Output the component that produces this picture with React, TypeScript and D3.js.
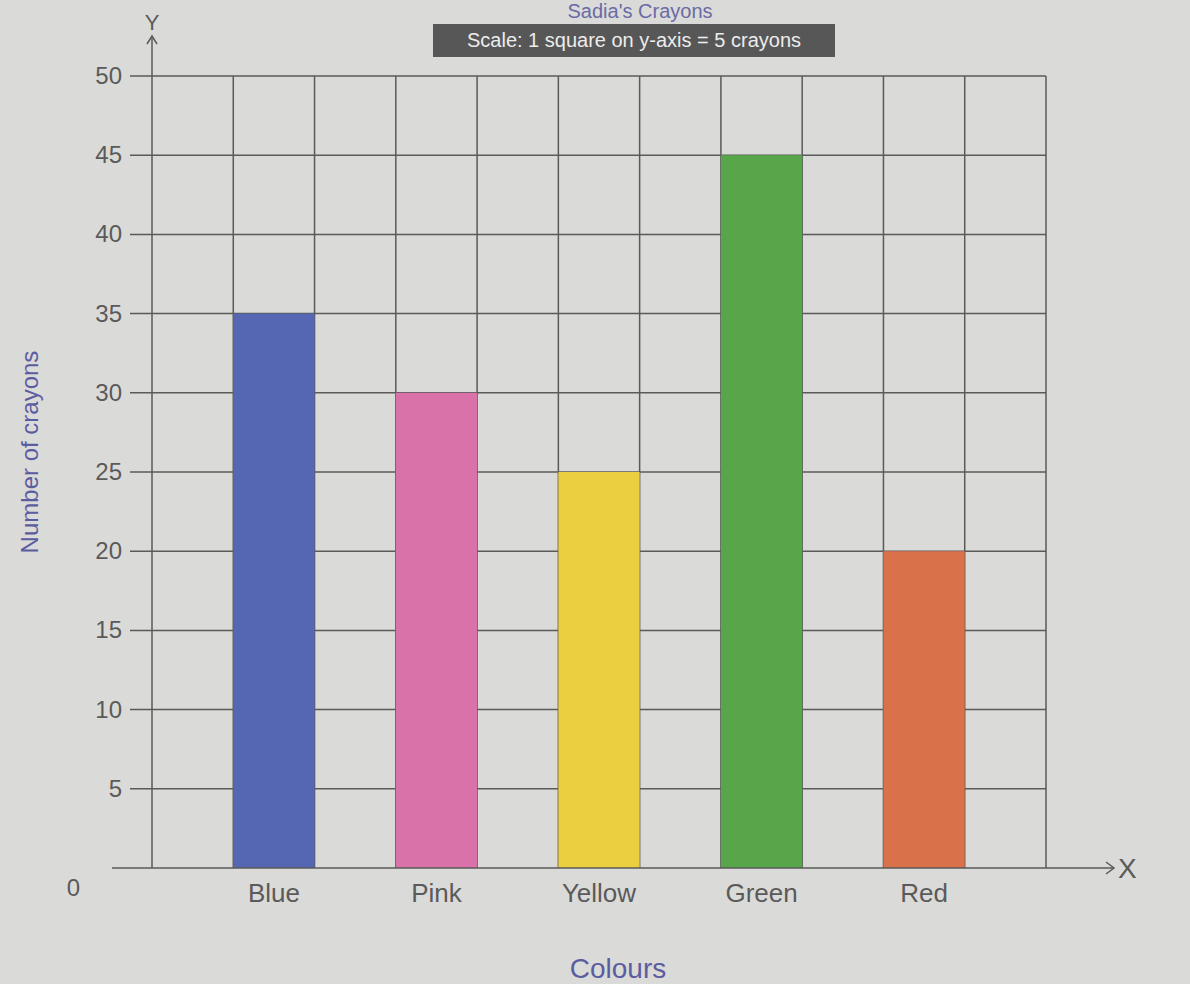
import React, { useEffect, useRef } from 'react';
import * as d3 from 'd3';

const colours = ['Blue', 'Pink', 'Yellow', 'Green', 'Red'];
const crayons = [35, 30, 25, 45, 20];
const barColours = ['#5566b2', '#d872a8', '#ebcf3e', '#57a64a', '#d9714b'];
const yTicks = [0, 5, 10, 15, 20, 25, 30, 35, 40, 45, 50];

const App = () => {
  const ref = useRef(null);

  useEffect(() => {
    drawChart();
  }, []);

  const drawChart = () => {
    const width = 1190;
    const height = 984;
    const ink = '#5a5a5a';
    const font = '"Liberation Sans", Arial, sans-serif';

    d3.select(ref.current).html('');

    const svg = d3.select(ref.current)
      .append('svg')
      .attr('width', width)
      .attr('height', height)
      .style('position', 'absolute')
      .style('left', 0)
      .style('top', 0)
      .style('font-family', font);

    svg.append('rect')
      .attr('width', width)
      .attr('height', height)
      .attr('fill', '#dadad8');

    // 11 grid columns, bars sit in every second one
    const x = d3.scaleLinear().domain([0, 11]).range([152, 1046]);
    const y = d3.scaleLinear().domain([0, 50]).range([868, 76]);

    // Title
    svg.append('text')
      .attr('x', 640)
      .attr('y', 18)
      .attr('text-anchor', 'middle')
      .attr('font-size', 20)
      .attr('fill', '#6a6aa6')
      .text("Sadia's Crayons");

    // Scale box
    svg.append('rect')
      .attr('x', 433)
      .attr('y', 24)
      .attr('width', 402)
      .attr('height', 33)
      .attr('fill', '#575757');

    svg.append('text')
      .attr('x', 634)
      .attr('y', 47)
      .attr('text-anchor', 'middle')
      .attr('font-size', 20)
      .attr('fill', '#ececec')
      .text('Scale: 1 square on y-axis = 5 crayons');

    // Horizontal grid lines
    svg.selectAll('.hline')
      .data(yTicks.filter(t => t > 0))
      .enter()
      .append('line')
      .attr('x1', x(0) - 22)
      .attr('x2', x(11))
      .attr('y1', d => y(d))
      .attr('y2', d => y(d))
      .attr('stroke', ink)
      .attr('stroke-width', 1.5);

    // Vertical grid lines
    svg.selectAll('.vline')
      .data(d3.range(1, 12))
      .enter()
      .append('line')
      .attr('x1', d => x(d))
      .attr('x2', d => x(d))
      .attr('y1', y(50))
      .attr('y2', y(0))
      .attr('stroke', ink)
      .attr('stroke-width', 1.5);

    // Bars cover the grid
    svg.selectAll('.bar')
      .data(crayons)
      .enter()
      .append('rect')
      .attr('class', 'bar')
      .attr('x', (d, i) => x(2 * i + 1))
      .attr('y', d => y(d))
      .attr('width', x(2) - x(1))
      .attr('height', d => y(0) - y(d))
      .attr('fill', (d, i) => barColours[i]);

    // Y axis with arrow
    svg.append('line')
      .attr('x1', x(0))
      .attr('x2', x(0))
      .attr('y1', y(0))
      .attr('y2', y(50) - 40)
      .attr('stroke', ink)
      .attr('stroke-width', 1.5);

    svg.append('path')
      .attr('d', `M${x(0) - 5},${y(50) - 32} L${x(0)},${y(50) - 40} L${x(0) + 5},${y(50) - 32}`)
      .attr('fill', 'none')
      .attr('stroke', ink)
      .attr('stroke-width', 1.5);

    svg.append('text')
      .attr('x', x(0))
      .attr('y', y(50) - 46)
      .attr('text-anchor', 'middle')
      .attr('font-size', 22)
      .attr('fill', ink)
      .text('Y');

    // X axis with arrow
    svg.append('line')
      .attr('x1', x(0) - 40)
      .attr('x2', x(11) + 68)
      .attr('y1', y(0))
      .attr('y2', y(0))
      .attr('stroke', ink)
      .attr('stroke-width', 1.5);

    svg.append('path')
      .attr('d', `M${x(11) + 60},${y(0) - 6} L${x(11) + 68},${y(0)} L${x(11) + 60},${y(0) + 6}`)
      .attr('fill', 'none')
      .attr('stroke', ink)
      .attr('stroke-width', 1.5);

    svg.append('text')
      .attr('x', x(11) + 72)
      .attr('y', y(0) + 10)
      .attr('font-size', 28)
      .attr('fill', ink)
      .text('X');

    // Y tick labels
    svg.selectAll('.ytick')
      .data(yTicks)
      .enter()
      .append('text')
      .attr('x', d => (d === 0 ? x(0) - 72 : x(0) - 30))
      .attr('y', d => (d === 0 ? y(d) + 28 : y(d) + 8))
      .attr('text-anchor', 'end')
      .attr('font-size', 24)
      .attr('fill', ink)
      .text(d => d);

    // X category labels
    svg.selectAll('.xtick')
      .data(colours)
      .enter()
      .append('text')
      .attr('x', (d, i) => x(2 * i + 1.5))
      .attr('y', y(0) + 34)
      .attr('text-anchor', 'middle')
      .attr('font-size', 26)
      .attr('fill', ink)
      .text(d => d);

    // Axis titles
    svg.append('text')
      .attr('x', 618)
      .attr('y', 978)
      .attr('text-anchor', 'middle')
      .attr('font-size', 28)
      .attr('fill', '#5c5ca0')
      .text('Colours');

    svg.append('text')
      .attr('transform', 'translate(38,452) rotate(-90)')
      .attr('text-anchor', 'middle')
      .attr('font-size', 24)
      .attr('fill', '#5c5ca0')
      .text('Number of crayons');
  };

  return <div ref={ref}></div>;
};

export default App;
